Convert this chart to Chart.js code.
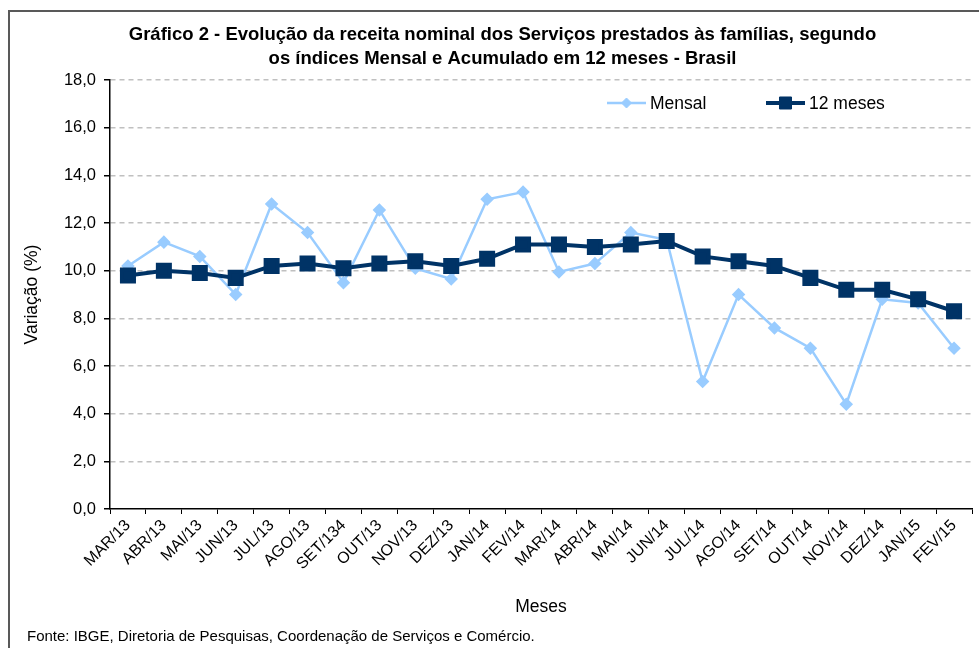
<!DOCTYPE html>
<html lang="pt">
<head>
<meta charset="UTF-8">
<title>Gráfico 2 - Receita nominal dos Serviços prestados às famílias</title>
<script src="https://cdn.jsdelivr.net/npm/chart.js"></script>
<style>
    html, body {
        margin: 0;
        padding: 0;
        background: #fff;
        overflow: hidden;
        width: 979px;
        height: 648px;
    }
    #chart {
        position: absolute;
        left: 0;
        top: 0;
    }
    .frame {
        position: absolute;
        left: 8px;
        top: 10px;
        width: 1100px;
        height: 700px;
        border: 2px solid #595959;
        box-sizing: border-box;
        pointer-events: none;
    }
    .fonte {
        position: absolute;
        left: 27px;
        top: 627px;
        font-family: "Liberation Sans", Arial, sans-serif;
        font-size: 15px;
        color: #000;
    }
</style>
</head>
<body>
<canvas id="chart" width="1005" height="648"></canvas>
<div class="frame"></div>
<div class="fonte">Fonte: IBGE, Diretoria de Pesquisas, Coordenação de Serviços e Comércio.</div>

<script>
    // meses (eixo x)
    const meses = ["MAR/13", "ABR/13", "MAI/13", "JUN/13", "JUL/13", "AGO/13", "SET/134", "OUT/13",
        "NOV/13", "DEZ/13", "JAN/14", "FEV/14", "MAR/14", "ABR/14", "MAI/14", "JUN/14", "JUL/14",
        "AGO/14", "SET/14", "OUT/14", "NOV/14", "DEZ/14", "JAN/15", "FEV/15"];

    // variação mensal (%)
    const mensal = [10.2, 11.2, 10.6, 9.0, 12.8, 11.6, 9.5, 12.55, 10.1, 9.65, 13.0, 13.3,
        9.95, 10.3, 11.6, 11.3, 5.35, 9.0, 7.6, 6.75, 4.4, 8.8, 8.65, 6.75];

    // acumulado em 12 meses (%)
    const acum12 = [9.8, 10.0, 9.9, 9.7, 10.2, 10.3, 10.1, 10.3, 10.4, 10.2, 10.5, 11.1,
        11.1, 11.0, 11.1, 11.25, 10.6, 10.4, 10.2, 9.7, 9.2, 9.2, 8.8, 8.3];

    const fontFamily = '"Liberation Sans", Arial, sans-serif';
    const corMensal = '#99ccff';
    const cor12 = '#003366';

    // legenda desenhada à moda do Excel (linha + marcador)
    const legendaExcel = {
        id: 'legendaExcel',
        afterDraw(chart) {
            const ctx = chart.ctx;
            const itens = [
                { label: 'Mensal', x: 607, ds: 0 },
                { label: '12 meses', x: 766, ds: 1 }
            ];
            const y = 103;
            ctx.save();
            itens.forEach(it => {
                const ds = chart.data.datasets[it.ds];
                ctx.strokeStyle = ds.borderColor;
                ctx.fillStyle = ds.borderColor;
                ctx.lineWidth = ds.borderWidth;
                ctx.beginPath();
                ctx.moveTo(it.x, y);
                ctx.lineTo(it.x + 39, y);
                ctx.stroke();
                ctx.lineWidth = 1;
                Chart.helpers.drawPoint(ctx, {
                    pointStyle: ds.pointStyle,
                    radius: ds.pointRadius,
                    borderWidth: 1
                }, it.x + 19.5, y);
                ctx.fillStyle = '#000';
                ctx.font = '17.5px ' + fontFamily;
                ctx.textBaseline = 'middle';
                ctx.fillText(it.label, it.x + 43, y + 1);
            });
            ctx.restore();
        }
    };

    new Chart(document.getElementById('chart'), {
        type: 'line',
        data: {
            labels: meses,
            datasets: [
                {
                    label: 'Mensal',
                    data: mensal,
                    borderColor: corMensal,
                    backgroundColor: corMensal,
                    pointBackgroundColor: corMensal,
                    pointBorderColor: corMensal,
                    borderWidth: 2.5,
                    pointStyle: 'rectRot',
                    pointRadius: 5,
                    pointHoverRadius: 5,
                    tension: 0,
                    order: 2
                },
                {
                    label: '12 meses',
                    data: acum12,
                    borderColor: cor12,
                    backgroundColor: cor12,
                    pointBackgroundColor: cor12,
                    pointBorderColor: cor12,
                    borderWidth: 4,
                    pointStyle: 'rect',
                    pointRadius: 8.5,
                    pointHoverRadius: 8.5,
                    tension: 0,
                    order: 1
                }
            ]
        },
        options: {
            responsive: false,
            animation: false,
            layout: { padding: 0 },
            plugins: {
                legend: { display: false },
                tooltip: { enabled: false },
                title: {
                    display: true,
                    text: ['Gráfico 2 - Evolução da receita nominal dos Serviços prestados às famílias, segundo',
                        'os índices Mensal e Acumulado em 12 meses - Brasil'],
                    color: '#000',
                    font: { family: fontFamily, size: 18.5, weight: 'bold', lineHeight: 1.3 },
                    padding: { top: 23, bottom: 9 }
                }
            },
            scales: {
                x: {
                    offset: true,
                    afterFit(scale) { scale.height = 139; },
                    grid: {
                        offset: true,
                        drawOnChartArea: false,
                        drawTicks: true,
                        tickLength: 5,
                        tickColor: '#000',
                        tickWidth: 1
                    },
                    border: { display: true, color: '#000', width: 1.5 },
                    ticks: {
                        autoSkip: false,
                        maxRotation: 45,
                        minRotation: 45,
                        padding: 2,
                        color: '#000',
                        font: { family: fontFamily, size: 16 }
                    },
                    title: {
                        display: true,
                        text: 'Meses',
                        color: '#000',
                        font: { family: fontFamily, size: 17.5 },
                        padding: { top: 0, bottom: 30 }
                    }
                },
                y: {
                    min: 0,
                    max: 18,
                    afterFit(scale) { scale.width = 110; },
                    grid: {
                        color: ctx => ctx.tick && ctx.tick.value === 0 ? 'rgba(0,0,0,0)' : '#c0c0c0',
                        lineWidth: 1.5,
                        tickLength: 6,
                        tickColor: '#000',
                        tickWidth: 1.5,
                        tickBorderDash: []
                    },
                    border: { display: true, color: '#000', width: 1.5, dash: [5, 4] },
                    ticks: {
                        stepSize: 2,
                        padding: 8,
                        color: '#000',
                        font: { family: fontFamily, size: 16.5 },
                        callback: v => v.toFixed(1).replace('.', ',')
                    },
                    title: {
                        display: true,
                        text: 'Variação (%)',
                        color: '#000',
                        font: { family: fontFamily, size: 17.5 },
                        padding: { top: 22, bottom: 0 }
                    }
                },
                // margem direita vazia (como no Excel), sem marcas
                direita: {
                    type: 'linear',
                    position: 'right',
                    display: true,
                    afterFit(scale) { scale.width = 33; },
                    grid: { display: false, drawOnChartArea: false },
                    border: { display: false },
                    ticks: { display: false }
                }
            }
        },
        plugins: [legendaExcel]
    });
</script>
</body>
</html>
